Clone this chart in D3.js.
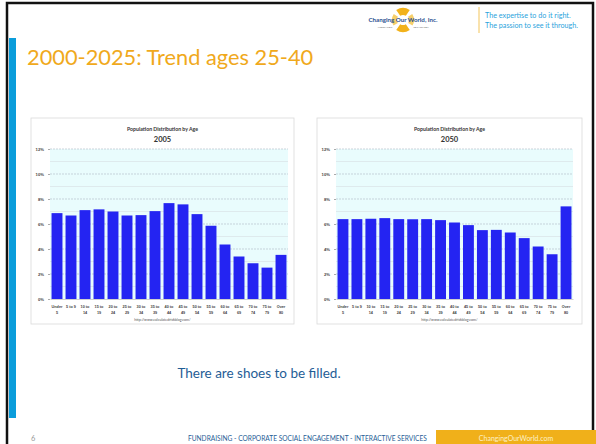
<!DOCTYPE html>
<html>
<head>
<meta charset="utf-8">
<script src="https://cdn.jsdelivr.net/npm/d3@7"></script>
<style>
  body { margin: 0; background: #fff; }
  svg { display: block; font-family: Lato, "Open Sans", sans-serif; }
</style>
</head>
<body>
<svg id="slide" width="596" height="444"></svg>
<script>
var ageGroups = ["Under 5", "5 to 9", "10 to 14", "15 to 19", "20 to 24", "25 to 29", "30 to 34", "35 to 39",
                 "40 to 44", "45 to 49", "50 to 54", "55 to 59", "60 to 64", "65 to 69", "70 to 74", "75 to 79", "Over 80"];
var share2005 = [6.87, 6.68, 7.11, 7.17, 7.0, 6.68, 6.71, 7.03, 7.67, 7.57, 6.79, 5.86, 4.36, 3.40, 2.86, 2.51, 3.53];
var share2050 = [6.39, 6.39, 6.42, 6.47, 6.39, 6.38, 6.39, 6.31, 6.12, 5.91, 5.51, 5.53, 5.32, 4.87, 4.20, 3.58, 7.41];
var yTicks = [0, 2, 4, 6, 8, 10, 12];
var minorTicks = [1, 3, 5, 7, 9, 11];

var svg = d3.select("#slide");

// slide frame
svg.append("rect").attr("x", 7).attr("y", 3).attr("width", 586).attr("height", 445)
   .attr("fill", "none").attr("stroke", "#111").attr("stroke-width", 2.5);
svg.append("rect").attr("x", 9).attr("y", 38).attr("width", 7).attr("height", 380).attr("fill", "#0b9ddb");

// header logo + tagline
var logo = svg.append("g").attr("transform", "translate(403,20)");
logo.append("path").attr("d", d3.arc()({innerRadius: 5, outerRadius: 12, startAngle: -0.6, endAngle: 0.6})).attr("fill", "#f2b21b");
logo.append("path").attr("d", d3.arc()({innerRadius: 5, outerRadius: 12, startAngle: Math.PI - 0.6, endAngle: Math.PI + 0.6})).attr("fill", "#f2b21b");
logo.append("path").attr("d", d3.arc()({innerRadius: 6, outerRadius: 11, startAngle: 1.0, endAngle: 2.1})).attr("fill", "#f6cf6a");
logo.append("path").attr("d", d3.arc()({innerRadius: 6, outerRadius: 11, startAngle: -2.1, endAngle: -1.0})).attr("fill", "#f6cf6a");
logo.append("text").attr("x", 0).attr("y", 2).attr("text-anchor", "middle")
    .attr("font-size", 6.2).attr("font-weight", "bold").attr("fill", "#2a4f8f").text("Changing Our World, Inc.");
logo.append("text").attr("x", -18).attr("y", 8).attr("text-anchor", "middle")
    .attr("font-size", 2.2).attr("fill", "#777").text("FUNDRAISING");
logo.append("text").attr("x", 18).attr("y", 8).attr("text-anchor", "middle")
    .attr("font-size", 2.2).attr("fill", "#777").text("ENGAGEMENT");
svg.append("line").attr("x1", 479).attr("x2", 479).attr("y1", 7).attr("y2", 33).attr("stroke", "#f3c55a").attr("stroke-width", 1);
svg.append("text").attr("x", 485).attr("y", 18).attr("font-size", 7.2).attr("fill", "#2ba3dc").text("The expertise to do it right.");
svg.append("text").attr("x", 485).attr("y", 28).attr("font-size", 7.2).attr("fill", "#2ba3dc").text("The passion to see it through.");

// title
svg.append("text").attr("x", 27).attr("y", 65).attr("font-size", 21.8).attr("fill", "#f0a91c")
   .text("2000-2025: Trend ages 25-40");

function drawChart(box, year, values) {
  var g = svg.append("g").attr("transform", "translate(" + box.x + "," + box.y + ")");
  g.append("rect").attr("width", box.w).attr("height", box.h).attr("fill", "#fff")
   .attr("stroke", "#d9d9d9").attr("stroke-width", 0.8);

  var x = d3.scaleBand().domain(ageGroups).range([box.pl, box.pr]).paddingInner(0.22).paddingOuter(0.11);
  var y = d3.scaleLinear().domain([0, 12]).range([box.pb, box.pt]);

  g.append("rect").attr("x", box.pl).attr("y", box.pt).attr("width", box.pr - box.pl).attr("height", box.pb - box.pt)
   .attr("fill", "#e9fcfd");

  g.selectAll(".minor").data(minorTicks).enter().append("line")
   .attr("x1", box.pl).attr("x2", box.pr).attr("y1", function(d) { return y(d); }).attr("y2", function(d) { return y(d); })
   .attr("stroke", "#d6dde2").attr("stroke-width", 0.6);
  g.selectAll(".major").data(yTicks.slice(1)).enter().append("line")
   .attr("x1", box.pl).attr("x2", box.pr).attr("y1", function(d) { return y(d); }).attr("y2", function(d) { return y(d); })
   .attr("stroke", "#b8c2cc").attr("stroke-width", 0.7).attr("stroke-dasharray", "2,1");

  g.selectAll(".bar").data(values).enter().append("rect")
   .attr("x", function(d, i) { return x(ageGroups[i]); })
   .attr("y", function(d) { return y(d); })
   .attr("width", x.bandwidth())
   .attr("height", function(d) { return y(0) - y(d); })
   .attr("fill", "#2424f2");

  var yAxis = g.append("g").attr("transform", "translate(" + box.pl + ",0)")
   .call(d3.axisLeft(y).tickValues(yTicks).tickSize(2).tickFormat(function(d) { return d + "%"; }));
  yAxis.select(".domain").remove();
  yAxis.selectAll("line").attr("stroke", "#aaa");
  yAxis.selectAll("text").attr("font-size", 4.2).attr("font-weight", "bold").attr("fill", "#444").attr("x", -6);

  var xAxis = g.append("g").attr("transform", "translate(0," + box.pb + ")")
   .call(d3.axisBottom(x).tickSize(0).tickFormat(""));
  xAxis.select(".domain").attr("stroke", "#bbb").attr("stroke-width", 0.7);
  xAxis.selectAll(".tick").each(function(d) {
    var lines = d === "5 to 9" ? [d] : [d.slice(0, d.lastIndexOf(" ")), d.slice(d.lastIndexOf(" ") + 1)];
    var t = d3.select(this).select("text").attr("font-size", 3.8).attr("font-weight", "bold").attr("fill", "#444").attr("y", 6);
    t.selectAll("tspan").data(lines).enter().append("tspan")
     .attr("x", 0).attr("dy", function(l, i) { return i === 0 ? "0.7em" : "1.6em"; }).text(function(l) { return l; });
  });

  g.append("text").attr("x", box.w / 2).attr("y", 13).attr("text-anchor", "middle")
   .attr("font-size", 5.2).attr("font-weight", "bold").attr("fill", "#333").text("Population Distribution by Age");
  g.append("text").attr("x", box.w / 2).attr("y", 24).attr("text-anchor", "middle")
   .attr("font-size", 7.5).attr("font-weight", "bold").attr("fill", "#333").text(year);
  g.append("text").attr("x", box.w / 2).attr("y", box.h - 3).attr("text-anchor", "middle")
   .attr("font-size", 3.6).attr("fill", "#555").text("http://www.calculatedriskblog.com/");
}

drawChart({x: 31, y: 118, w: 263, h: 206, pl: 19, pr: 257, pt: 31, pb: 181}, "2005", share2005);
drawChart({x: 317, y: 118, w: 265, h: 206, pl: 19, pr: 256, pt: 31, pb: 181}, "2050", share2050);

// caption
svg.append("text").attr("x", 259).attr("y", 378).attr("text-anchor", "middle").attr("font-size", 13.5)
   .attr("fill", "#1f5d96").text("There are shoes to be filled.");

// footer
svg.append("text").attr("x", 31).attr("y", 441).attr("font-size", 7.5).attr("fill", "#999").text("6");
svg.append("text").attr("x", 188).attr("y", 441).attr("font-size", 6.6).attr("fill", "#1f5d96")
   .text("FUNDRAISING  -  CORPORATE SOCIAL ENGAGEMENT  -  INTERACTIVE SERVICES");
svg.append("rect").attr("x", 436).attr("y", 430).attr("width", 160).attr("height", 14).attr("fill", "#f0b01a");
svg.append("text").attr("x", 516).attr("y", 441).attr("text-anchor", "middle").attr("font-size", 7)
   .attr("fill", "#fdf0c8").text("ChangingOurWorld.com");
</script>
</body>
</html>
